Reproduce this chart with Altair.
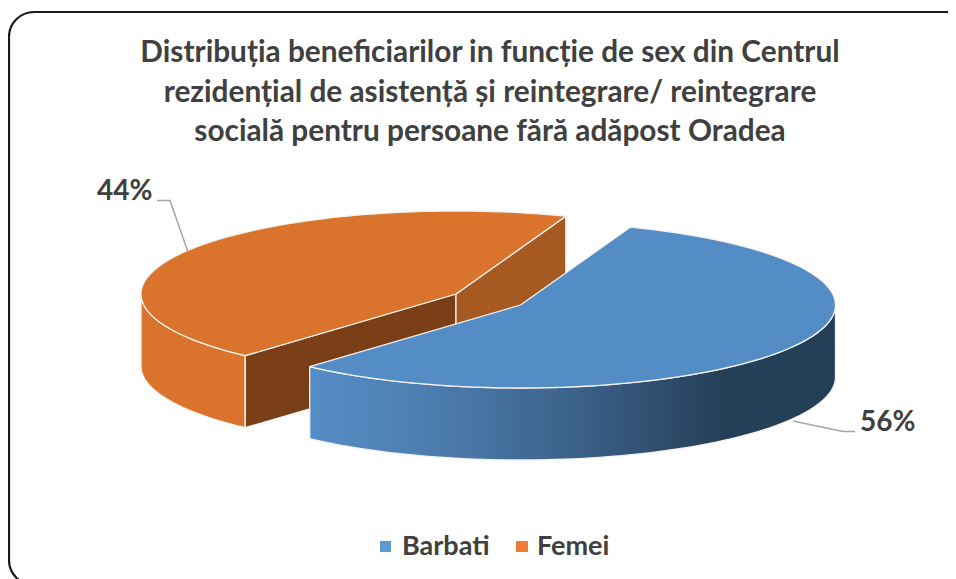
import math
import altair as alt
import pandas as pd

# --- data
categories = ["Barbati", "Femei"]
shares = [56, 44]
title_lines = [
    "Distribuția beneficiarilor in funcție de sex din Centrul",
    "rezidențial de asistență și reintegrare/ reintegrare",
    "socială pentru persoane fără adăpost Oradea",
]
legend_colors = ["#5B9BD5", "#ED7D31"]

# --- drawing style / projection of the tilted pie (page pixels)
W, H = 940, 571
START = 20.4      # degrees clockwise from "up" where the first slice starts
A, B, DEPTH = 315, 83, 72
CENTERS = {"Barbati": (520.5, 305), "Femei": (456, 294)}
INK = "#404040"
FONT = "Lato"

xs = alt.Scale(domain=[8, 8 + W], range=[0, W])
ys = alt.Scale(domain=[8 + H, 8], range=[H, 0])
XE = alt.X("x:Q", scale=xs, axis=None)
YE = alt.Y("y:Q", scale=ys, axis=None)


def rim(cat, deg, drop=0):
    cx, cy = CENTERS[cat]
    t = math.radians(deg)
    return cx + A * math.sin(t), cy - B * math.cos(t) + drop


def arc(cat, d0, d1, drop=0, n=90):
    return [rim(cat, d0 + (d1 - d0) * k / n, drop) for k in range(n + 1)]


def poly(points):
    pts = list(points) + [points[0]]
    return pd.DataFrame({"x": [p[0] for p in pts], "y": [p[1] for p in pts], "i": range(len(pts))})


def shape(points, fill, sw=1.3):
    return (
        alt.Chart(poly(points))
        .mark_line(fill=fill, stroke="#F4F1EE", strokeWidth=sw, strokeJoin="round", clip=False)
        .encode(x=XE, y=YE, order="i:Q")
    )


# slice angles follow from the shares
b0 = START
b1 = START + shares[0] * 3.6
f0 = b1
f1 = START + 360

cf = CENTERS["Femei"]
cfd = (cf[0], cf[1] + DEPTH)

# orange slice
f_outer = shape(arc("Femei", f0, 270) + arc("Femei", 270, f0, DEPTH), "#DA742C")
f_cut_left = shape([rim("Femei", f0), cf, cfd, rim("Femei", f0, DEPTH)], "#7A3F16")
f_cut_right = shape([cf, rim("Femei", f1), rim("Femei", f1, DEPTH), cfd], "#A65A22")
f_top = shape([CENTERS["Femei"]] + arc("Femei", f0, f1), "#DA742C")

# blue slice
wall_fill = alt.Gradient(
    gradient="linear", x1=0, x2=1, y1=0, y2=0,
    stops=[
        alt.GradientStop(offset=0, color="#548DC5"),
        alt.GradientStop(offset=0.2, color="#4E80B2"),
        alt.GradientStop(offset=0.5, color="#3C628A"),
        alt.GradientStop(offset=0.78, color="#254059"),
        alt.GradientStop(offset=1, color="#233F58"),
    ],
)
b_wall = shape(arc("Barbati", 90, b1) + arc("Barbati", b1, 90, DEPTH), wall_fill)
b_top = shape([CENTERS["Barbati"]] + arc("Barbati", b0, b1), "#548DC5")

# frame
frame = (
    alt.Chart(pd.DataFrame({"x": [9], "x2": [970], "y": [12], "y2": [585]}))
    .mark_rect(cornerRadius=25, fill="white", stroke="#1A1A1A", strokeWidth=2.2, clip=False)
    .encode(x=XE, x2="x2:Q", y=YE, y2="y2:Q")
)

# title
title = (
    alt.Chart(pd.DataFrame({"t": title_lines, "x": [490, 490, 490], "y": [62, 101.5, 141]}))
    .mark_text(font=FONT, fontWeight="bold", fontSize=29.8, color=INK, align="center", baseline="alphabetic")
    .encode(x=XE, y=YE, text="t:N")
)

# leaders and percentages
lead_a = alt.Chart(pd.DataFrame({"x": [157, 170, 188], "y": [200.5, 200.5, 252], "i": [0, 1, 2]})).mark_line(
    color="#A6A6A6", strokeWidth=1.5).encode(x=XE, y=YE, order="i:Q")
lead_b = alt.Chart(pd.DataFrame({"x": [855, 843, 793], "y": [431.5, 431.5, 421], "i": [0, 1, 2]})).mark_line(
    color="#A6A6A6", strokeWidth=1.5).encode(x=XE, y=YE, order="i:Q")
pct = (
    alt.Chart(pd.DataFrame({"t": [f"{shares[1]}%", f"{shares[0]}%"], "x": [97, 860], "y": [200, 431]}))
    .mark_text(font=FONT, fontWeight="bold", fontSize=28, color=INK, align="left", baseline="alphabetic")
    .encode(x=XE, y=YE, text="t:N")
)

# legend
leg_sq = (
    alt.Chart(pd.DataFrame({"x": [380, 516], "x2": [391, 528], "y": [541, 541], "y2": [552, 552], "c": categories}))
    .mark_rect()
    .encode(x=XE, x2="x2:Q", y=YE, y2="y2:Q",
            color=alt.Color("c:N", scale=alt.Scale(domain=categories, range=legend_colors), legend=None))
)
leg_tx = (
    alt.Chart(pd.DataFrame({"t": categories, "x": [402, 537], "y": [555, 555]}))
    .mark_text(font=FONT, fontWeight="bold", fontSize=27, color=INK, align="left", baseline="alphabetic")
    .encode(x=XE, y=YE, text="t:N")
)

chart = (
    alt.layer(frame, f_outer, f_cut_left, f_cut_right, f_top, b_wall, b_top,
              lead_a, lead_b, title, pct, leg_sq, leg_tx)
    .properties(width=W, height=H, padding=0, background="white",
                autosize=alt.AutoSizeParams(type="none"))
    .configure_view(stroke=None)
)

chart.save("out.html", embed_options={"renderer": "svg", "actions": False})
